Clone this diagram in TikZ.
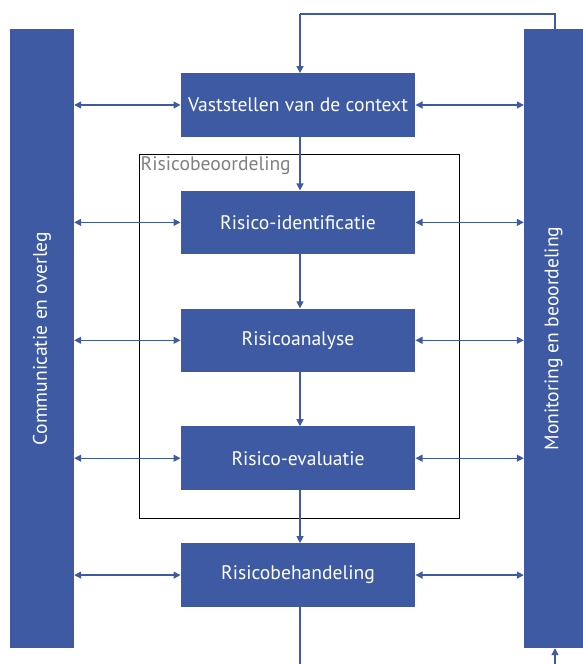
\documentclass[tikz,border=0pt]{standalone}
\usepackage{fontspec}
\setmainfont{PT Sans}
\usetikzlibrary{arrows.meta,positioning}
\definecolor{riskblue}{RGB}{61,90,163}
\tikzstyle{stap}=[fill=riskblue,text=white,minimum width=234.6pt,minimum height=63.5pt,inner sep=0pt,font=\fontsize{19.6}{22}\selectfont]
\tikzstyle{balk}=[fill=riskblue,text=white,inner sep=0pt,font=\fontsize{19.6}{22}\selectfont]
\tikzstyle{pijl}=[riskblue,line width=1.3pt,->,>={Triangle[length=7pt,width=7pt]}]
\tikzstyle{dubbel}=[pijl,<->]

\begin{document}
\begin{tikzpicture}[x=1pt,y=1pt,node distance=54pt]
            \useasboundingbox (0,0) rectangle (583,664);
            % zijbalken
            \node (comm) [balk, minimum width=64pt, minimum height=619pt] at (42,325.5) {};
            \node [balk, rotate=90] at (comm.center) {Communicatie en overleg};
            \node (mon) [balk, minimum width=59pt, minimum height=619pt] at (553.5,325.5) {};
            \node [balk, rotate=90] at (mon.center) {Monitoring en beoordeling};

            % stappen
            \node (context) [stap] at (298,559) {Vaststellen van de context};
            \node (ident) [stap, below=53.5pt of context] {Risico-identificatie};
            \node (analyse) [stap, below=of ident] {Risicoanalyse};
            \node (eval) [stap, below=of analyse] {Risico-evaluatie};
            \node (behandel) [stap, below=53pt of eval] {Risicobehandeling};

            % kader risicobeoordeling
            \node (kader) [draw=black, line width=1pt, minimum width=320pt, minimum height=364pt] at (299,327) {};
            \node [anchor=north west, inner sep=2pt, text=gray, font=\fontsize{19.6}{22}\selectfont] at (kader.north west) {Risicobeoordeling};

            \coordinate (boven) at (300,650);
            \coordinate (onder) at (300,0);
            \coordinate (onderrechts) at (555,0);

            % verbindingen
            \draw [pijl, -] (mon.north -| onderrechts) |- (boven);
            \draw [pijl] (boven) -- (context.north -| boven);
            \draw [pijl] (context.south -| boven) -- (ident.north -| boven);
            \draw [pijl] (ident.south -| boven) -- (analyse.north -| boven);
            \draw [pijl] (analyse.south -| boven) -- (eval.north -| boven);
            \draw [pijl] (eval.south -| boven) -- (behandel.north -| boven);
            \draw [pijl, -] (behandel.south -| onder) -- (onder);
            \draw [pijl] (onderrechts) -- (mon.south -| onderrechts);

            \foreach \s in {context,ident,analyse,eval,behandel} {
              \draw [dubbel] (comm.east |- \s.west) -- (\s.west);
              \draw [dubbel] (\s.east) -- (mon.west |- \s.east);
            }
\end{tikzpicture}
\end{document}
